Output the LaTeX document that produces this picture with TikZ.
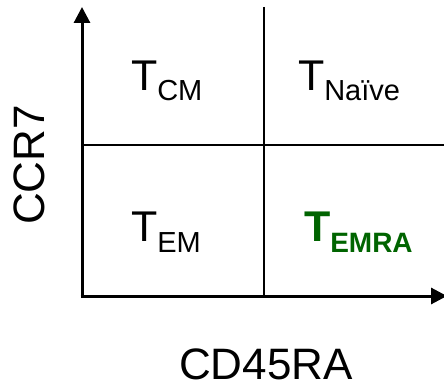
\documentclass[tikz,border=0pt]{standalone}
\usepackage{fontspec}
\setmainfont{Liberation Sans}
\usetikzlibrary{arrows.meta}
\definecolor{emragreen}{RGB}{0,100,0}
\newcommand{\bigT}[1]{{\fontsize{43}{43}\selectfont #1}}
\newcommand{\subT}[2][29]{\raisebox{-10pt}{\fontsize{#1}{#1}\selectfont #2}}
\tikzset{
  axis/.style={line width=3pt, -{Triangle[length=16pt,width=16pt]}},
  divider/.style={line width=2.2pt},
  cell/.style={anchor=base west, inner sep=0pt, outer sep=0pt},
  axlabel/.style={inner sep=0pt, font=\fontsize{44}{44}\selectfont}
}
\begin{document}
\begin{tikzpicture}[x=1pt,y=1pt]
\useasboundingbox (0,0) rectangle (444,-387);
\coordinate (origin) at (82,-296);
\coordinate (ytop) at (82,-7);
\coordinate (xend) at (447,-296);
\coordinate (vtop) at (264,-7);
\coordinate (vbot) at (264,-296);
\coordinate (hleft) at (82,-145);
\coordinate (hright) at (444,-145);
\draw[divider] (vtop) -- (vbot);
\draw[divider] (hleft) -- (hright);
\draw[axis] ([yshift=-1.5pt]origin) -- (ytop);
\draw[axis] ([xshift=-1.5pt]origin) -- (xend);
\node[cell] (tcm) at (131,-91) {\bigT{T}\subT{CM}};
\node[cell] (tnaive) at (298,-91) {\bigT{T}\subT{Naïve}};
\node[cell] (tem) at (131,-242) {\bigT{T}\subT{EM}};
\node[cell, text=emragreen, font=\bfseries] (temra) at (304,-242) {\bigT{T}\subT[28]{EMRA}};
\node[axlabel] (xlabel) at (266,-364) {CD45RA};
\node[axlabel, rotate=90] (ylabel) at (29,-165) {CCR7};
\end{tikzpicture}
\end{document}
